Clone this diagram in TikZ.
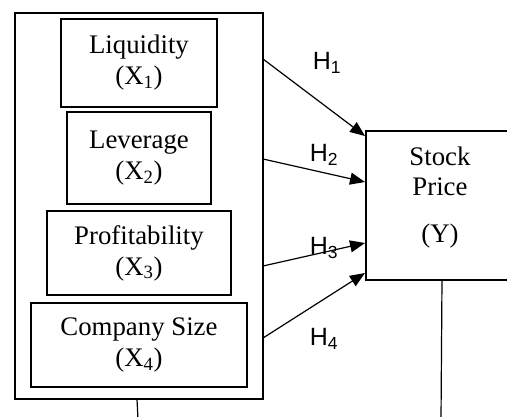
\documentclass[tikz,border=0pt]{standalone}
\usepackage{fontspec}
\setmainfont{Liberation Serif}
\newfontfamily\hfont{Liberation Sans}
\usetikzlibrary{arrows.meta}
\tikzset{
  x=1pt, y=-1pt,
  box/.style={draw=black, line width=1.3pt, inner sep=0pt, outer sep=0pt, align=center,
    font=\fontsize{26.8}{31}\selectfont},
  thickbox/.style={box, line width=2pt},
  hyp/.style={-{Triangle[length=15pt,width=12pt]}, line width=1.2pt},
  hlabel/.style={font=\hfont\fontsize{25}{28}\selectfont, inner sep=0pt},
  plain/.style={line width=1.2pt}
}
\begin{document}
\begin{tikzpicture}
\path[use as bounding box, clip] (0,0) rectangle (507,416);
\fill[white] (0,0) rectangle (507,416);
\node[thickbox, minimum width=248pt, minimum height=386pt] (outer) at (139,206) {};
\node[thickbox, minimum width=156pt, minimum height=88pt] (liq) at (139,63) {Liquidity\\(X\textsubscript{1})};
\node[box, minimum width=144pt, minimum height=92pt] (lev) at (139,158) {Leverage\\(X\textsubscript{2})};
\node[box, minimum width=184pt, minimum height=84pt] (prof) at (139,253) {Profitability\\(X\textsubscript{3})};
\node[box, minimum width=216pt, minimum height=84pt] (size) at (139,345) {Company Size\\(X\textsubscript{4})};
\node[thickbox, minimum width=148pt, minimum height=149pt] (stock) at (440,205.5) {};
\node[font=\fontsize{26.8}{30}\selectfont, align=center, inner sep=0pt] (stocktxt) at (440,198) {Stock\\Price\\[17pt](Y)};
\coordinate (h1s) at (263,59);
\coordinate (h2s) at (263,159);
\coordinate (h3s) at (263,266);
\coordinate (h4s) at (263,338);
\coordinate (h1e) at (365,136);
\coordinate (h2e) at (365,182);
\coordinate (h3e) at (365,243);
\coordinate (h4e) at (365,273);
\draw[hyp] (h1s) -- (h1e);
\draw[hyp] (h2s) -- (h2e);
\draw[hyp] (h3s) -- (h3e);
\draw[hyp] (h4s) -- (h4e);
\node[hlabel] (l1) at (327,63) {H\textsubscript{1}};
\node[hlabel] (l2) at (324,155) {H\textsubscript{2}};
\node[hlabel] (l3) at (324,248) {H\textsubscript{3}};
\node[hlabel] (l4) at (324,339) {H\textsubscript{4}};
\coordinate (b1) at (138,420);
\coordinate (b2) at (441,420);
\draw[plain] ([xshift=-2pt]outer.south) -- (b1);
\draw[plain] ([xshift=2pt]stock.south) -- (b2);
\end{tikzpicture}
\end{document}
